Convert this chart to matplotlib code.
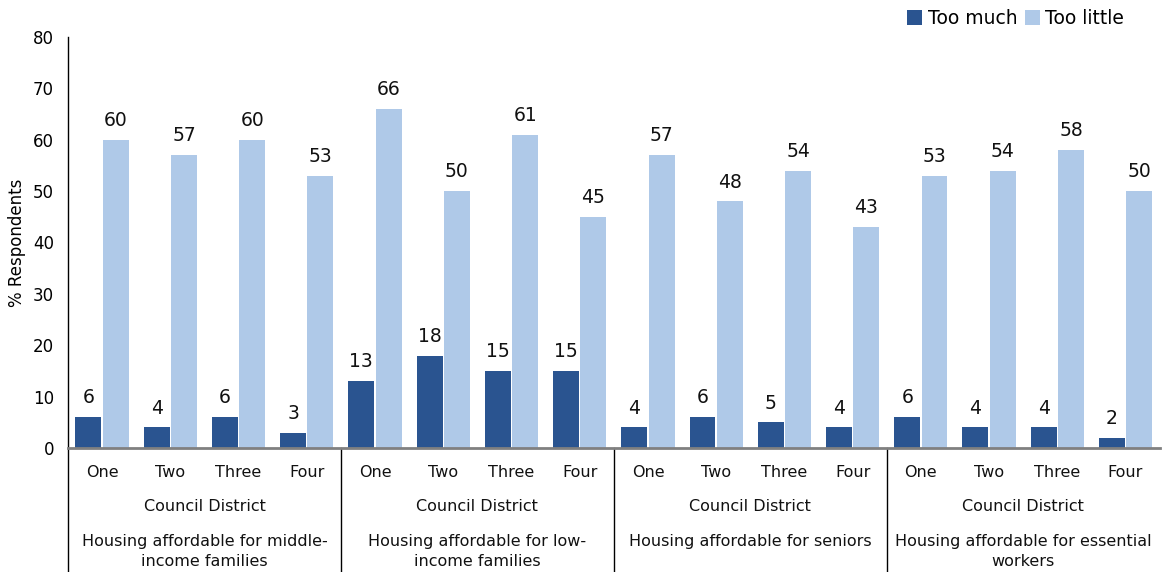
import matplotlib.pyplot as plt
import matplotlib.transforms as mtransforms
import numpy as np

# Datos de la encuesta
districts = ['One', 'Two', 'Three', 'Four']
groups = ['Housing affordable for middle-\nincome families',
          'Housing affordable for low-\nincome families',
          'Housing affordable for seniors',
          'Housing affordable for essential\nworkers']
too_much = [6, 4, 6, 3, 13, 18, 15, 15, 4, 6, 5, 4, 6, 4, 4, 2]
too_little = [60, 57, 60, 53, 66, 50, 61, 45, 57, 48, 54, 43, 53, 54, 58, 50]

color_much = '#2a5490'
color_little = '#afc9e8'

plt.rcParams['font.family'] = 'DejaVu Sans'

fig = plt.figure(figsize=(11.62, 5.72), dpi=100)
ax = fig.add_axes([0.0585, 0.2168, 0.9395, 0.7185])

x = np.arange(len(too_much))
w = 0.38
b1 = ax.bar(x - 0.2, too_much, w, color=color_much, label='Too much')
b2 = ax.bar(x + 0.2, too_little, w, color=color_little, label='Too little')

# Etiquetas de valor sobre cada barra
for bars, vals in ((b1, too_much), (b2, too_little)):
    for rect, v in zip(bars, vals):
        ax.annotate(f'{v}', (rect.get_x() + rect.get_width() / 2, v),
                    xytext=(0, 7), textcoords='offset points',
                    ha='center', va='bottom', fontsize=13.5, color='#111111')

ax.set_xlim(-0.5, len(too_much) - 0.5)
ax.set_ylim(0, 80)
ax.set_yticks(range(0, 81, 10))
ax.tick_params(axis='y', length=0, labelsize=12, pad=10)
ax.tick_params(axis='x', length=0)
ax.set_xticks([])
ax.set_ylabel('% Respondents', fontsize=12)
ax.yaxis.set_label_coords(-0.038, 0.5)

for s in ['top', 'right']:
    ax.spines[s].set_visible(False)
ax.spines['left'].set_color('black')
ax.spines['left'].set_linewidth(1)
ax.spines['bottom'].set_color('#808080')
ax.spines['bottom'].set_linewidth(2)

# Etiquetas jerárquicas del eje x
trans = mtransforms.blended_transform_factory(ax.transData, ax.transAxes)
px = 1 / (0.7185 * 572)
for i in x:
    ax.text(i, -25 * px, districts[i % 4], transform=trans,
            ha='center', va='center', fontsize=11.5, color='#111111')
for g, name in enumerate(groups):
    cx = g * 4 + 1.5
    ax.text(cx, -59 * px, 'Council District', transform=trans,
            ha='center', va='center', fontsize=11.5, color='#111111')
    ax.text(cx, -86 * px, name, transform=trans, ha='center', va='top',
            fontsize=11.5, color='#111111', linespacing=1.4)

# Separadores verticales entre grupos
for sx in [-0.5, 3.5, 7.5, 11.5]:
    ax.plot([sx, sx], [0, -0.35], transform=trans, color='black',
            linewidth=1, clip_on=False)

fig.legend(handles=[b1, b2], loc='upper right', bbox_to_anchor=(0.982, 1.014),
           ncol=2, frameon=False, fontsize=13.5, handlelength=0.8,
           handleheight=0.8, handletextpad=0.3, columnspacing=0.4)

fig.savefig('out.png', dpi=100)
